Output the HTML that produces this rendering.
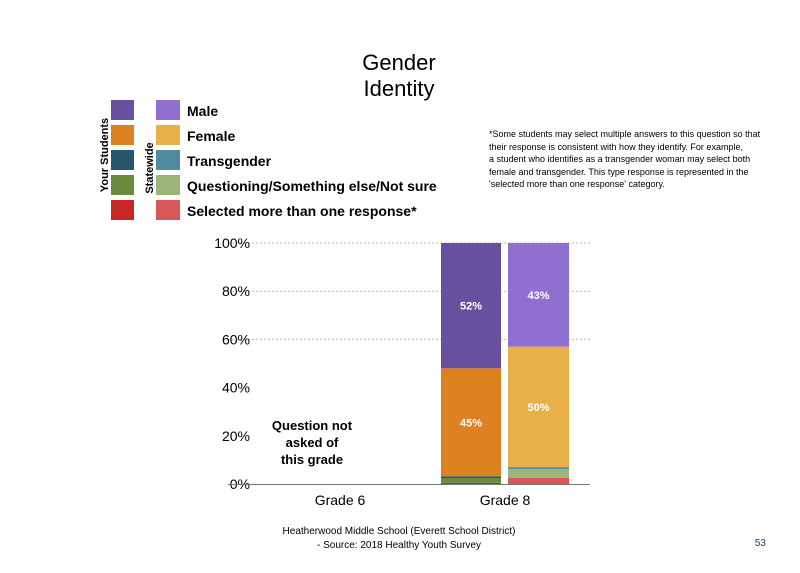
<!DOCTYPE html>
<html><head><meta charset="utf-8"><style>
body{margin:0;background:#fff;width:800px;height:568px;overflow:hidden;font-family:"Liberation Sans",sans-serif;}
</style></head><body>
<svg width="800" height="568">
<text x="399" y="70" text-anchor="middle" font-size="22">Gender</text>
<text x="399" y="96" text-anchor="middle" font-size="22">Identity</text>
<g id="legend"></g>
<text transform="translate(108,155) rotate(-90)" text-anchor="middle" font-size="11" font-weight="bold">Your Students</text>
<text transform="translate(153,168) rotate(-90)" text-anchor="middle" font-size="11" font-weight="bold">Statewide</text>
<g font-size="9">
<text x="489" y="137">*Some students may select multiple answers to this question so that</text>
<text x="489" y="150">their response is consistent with how they identify. For example,</text>
<text x="489" y="162">a student who identifies as a transgender woman may select both</text>
<text x="489" y="175">female and transgender. This type response is represented in the</text>
<text x="489" y="187">'selected more than one response' category.</text>
</g>
<g id="plot"></g>
<text x="312" y="430" text-anchor="middle" font-size="13" font-weight="bold">Question not</text>
<text x="312" y="447" text-anchor="middle" font-size="13" font-weight="bold">asked of</text>
<text x="312" y="464" text-anchor="middle" font-size="13" font-weight="bold">this grade</text>
<text x="399" y="534" text-anchor="middle" font-size="10">Heatherwood Middle School (Everett School District)</text>
<text x="399" y="548" text-anchor="middle" font-size="10">- Source: 2018 Healthy  Youth Survey</text>
<text x="766" y="546" text-anchor="end" font-size="10" fill="#1f3a7a">53</text>
</svg>
<script>
const categories=["Grade 6","Grade 8"];
const seriesNames=["Selected more than one response*","Questioning/Something else/Not sure","Transgender","Female","Male"];
const yourColors=["#c62828","#6a8a3e","#28566a","#dc8220","#67509d"];
const stateColors=["#d85656","#9db57b","#4f8b9e","#e9b04a","#8f6fd0"];
const yourG8=[0.5,2,0.7,44.8,52];
const stateG8=[2.5,3.7,0.8,50,43];
const yourLabels=[null,null,null,"45%","52%"];
const stateLabels=[null,null,null,"50%","43%"];
const yTicks=[0,20,40,60,80,100];
const NS="http://www.w3.org/2000/svg";
function mk(t,a,p){const e=document.createElementNS(NS,t);for(const k in a)e.setAttribute(k,a[k]);p.appendChild(e);return e;}
const y=v=>484-v*2.41;
const xc=i=>340+i*165;
const plot=document.getElementById('plot');
yTicks.forEach(t=>{
 if(t>=60){const l=mk('line',{x1:228,x2:590,y1:y(t),y2:y(t),stroke:'#bbb','stroke-dasharray':'2,2'},plot);
 
 }
 const tx=mk('text',{x:250,y:y(t)+5,'text-anchor':'end','font-size':14},plot);tx.textContent=t+'%';
 
 
});
function stack(vals,cols,labels,x0,w,nm){let c=0;vals.forEach((v,i)=>{
 const r=mk('rect',{x:x0,y:y(c+v),width:w,height:v*2.41,fill:cols[i]},plot);
 
 
 if(labels[i]){const t=mk('text',{x:x0+w/2,y:y(c+v/2)+4,'text-anchor':'middle','font-size':11,'font-weight':'bold',fill:'#fff'},plot);t.textContent=labels[i];
 
 }
 c+=v;});}
stack(yourG8,yourColors,yourLabels,xc(1)-64,60,'your-grade8');
stack(stateG8,stateColors,stateLabels,xc(1)+3,61,'state-grade8');
const ax=mk('line',{x1:228,x2:590,y1:484.5,y2:484.5,stroke:'#777'},plot);


categories.forEach((c,i)=>{const t=mk('text',{x:xc(i),y:505,'text-anchor':'middle','font-size':14},plot);t.textContent=c;
 
 });
const lg=document.getElementById('legend');
for(let j=0;j<5;j++){const i=4-j;const yy=100+j*25;
 const a=mk('rect',{x:111,y:yy,width:23,height:20,fill:yourColors[i]},lg);
 
 
 const b=mk('rect',{x:156,y:yy,width:24,height:20,fill:stateColors[i]},lg);
 
 
 const t=mk('text',{x:187,y:yy+16,'font-size':14,'font-weight':'bold'},lg);t.textContent=seriesNames[i];
 
 }
</script>
</body></html>
